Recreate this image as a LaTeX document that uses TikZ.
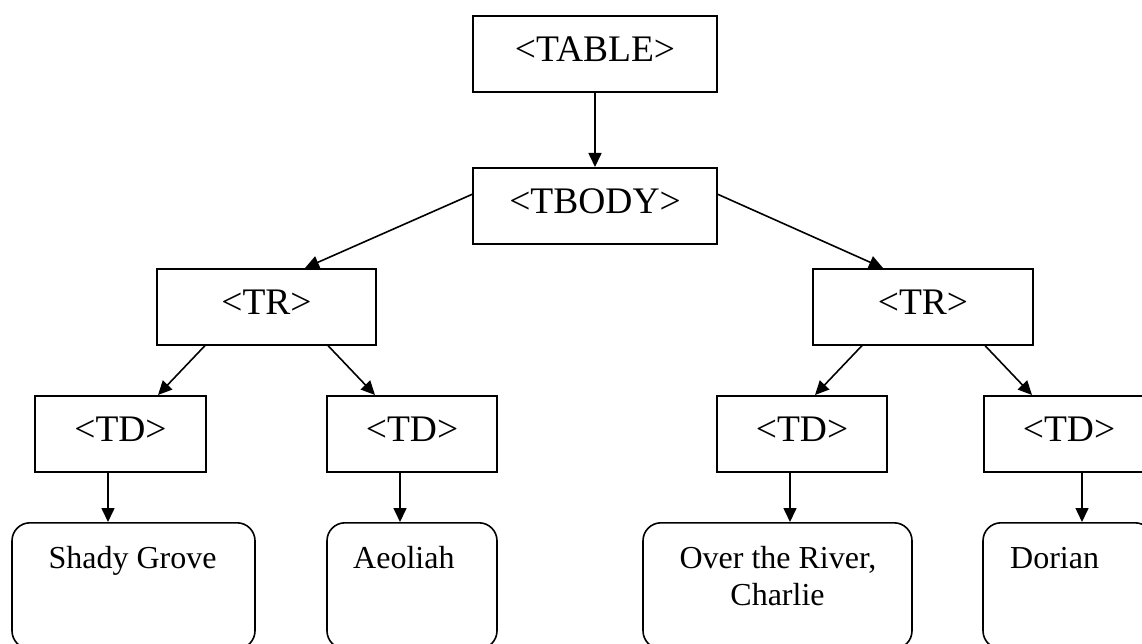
\documentclass[tikz,border=0pt]{standalone}
\usepackage{fontspec}
\setmainfont{Liberation Serif}
\usetikzlibrary{arrows.meta}
\begin{document}
\begin{tikzpicture}[x=1pt,y=-1pt,
  tagbox/.style={draw,line width=1.6pt,rectangle,inner xsep=0pt,inner ysep=0pt,
    text height=46pt,text depth=30pt,font=\fontsize{37.5}{42}\selectfont},
  leafbox/.style={draw,line width=1.6pt,rectangle,rounded corners=18pt,inner sep=0pt},
  leaftext/.style={inner sep=0pt,font=\fontsize{32}{37}\selectfont},
  arr/.style={line width=1.6pt,-{Triangle[length=14pt,width=13pt]}}]
\useasboundingbox[fill=white] (0,0) rectangle (1142,644);
% tag boxes
\node[tagbox,minimum width=244pt,anchor=north] (table) at (595,15) {<TABLE>};
\node[tagbox,minimum width=244pt,anchor=north] (tbody) at (595,167) {<TBODY>};
\node[tagbox,minimum width=219pt,anchor=north] (tr1) at (266.5,268) {<TR>};
\node[tagbox,minimum width=220pt,anchor=north] (tr2) at (923,268) {<TR>};
\node[tagbox,minimum width=171pt,anchor=north] (td1) at (120.5,395) {<TD>};
\node[tagbox,minimum width=170pt,anchor=north] (td2) at (412,395) {<TD>};
\node[tagbox,minimum width=170pt,anchor=north] (td3) at (802,395) {<TD>};
\node[tagbox,minimum width=170pt,anchor=north] (td4) at (1069,395) {<TD>};
% leaves
\node[leafbox,minimum width=243pt,minimum height=126pt,anchor=north] (l1) at (133.5,522) {};
\node[leafbox,minimum width=170pt,minimum height=126pt,anchor=north] (l2) at (412,522) {};
\node[leafbox,minimum width=269pt,minimum height=126pt,anchor=north] (l3) at (777.5,522) {};
\node[leafbox,minimum width=170pt,minimum height=126pt,anchor=north] (l4) at (1068,522) {};
\node[leaftext,anchor=base] (l1t) at (132.5,568) {Shady Grove};
\node[leaftext,anchor=base west] (l2t) at (353,568) {Aeoliah};
\node[leaftext,anchor=base] (l3t) at (778,568) {Over the River,};
\node[leaftext,anchor=base] (l3u) at (777.5,605) {Charlie};
\node[leaftext,anchor=base west] (l4t) at (1010,568) {Dorian};
% connectors
\draw[arr] (table.south) -- (tbody.north);
\draw[arr] ([yshift=11.5pt]tbody.west) -- ([xshift=38.5pt]tr1.north);
\draw[arr] ([yshift=11.5pt]tbody.east) -- ([xshift=-40pt]tr2.north);
\draw[arr] ([xshift=-61.5pt]tr1.south) -- ([xshift=37.5pt]td1.north);
\draw[arr] ([xshift=61.5pt]tr1.south) -- ([xshift=-37pt]td2.north);
\draw[arr] ([xshift=-61pt]tr2.south) -- ([xshift=13pt]td3.north);
\draw[arr] ([xshift=62pt]tr2.south) -- ([xshift=-37pt]td4.north);
\coordinate (d1) at ([xshift=-12.5pt]td1.south);
\coordinate (d2) at ([xshift=-12pt]td2.south);
\coordinate (d3) at ([xshift=-12pt]td3.south);
\coordinate (d4) at ([xshift=13pt]td4.south);
\draw[arr] (d1) -- (d1 |- l1.north);
\draw[arr] (d2) -- (d2 |- l2.north);
\draw[arr] (d3) -- (d3 |- l3.north);
\draw[arr] (d4) -- (d4 |- l4.north);
\end{tikzpicture}
\end{document}
